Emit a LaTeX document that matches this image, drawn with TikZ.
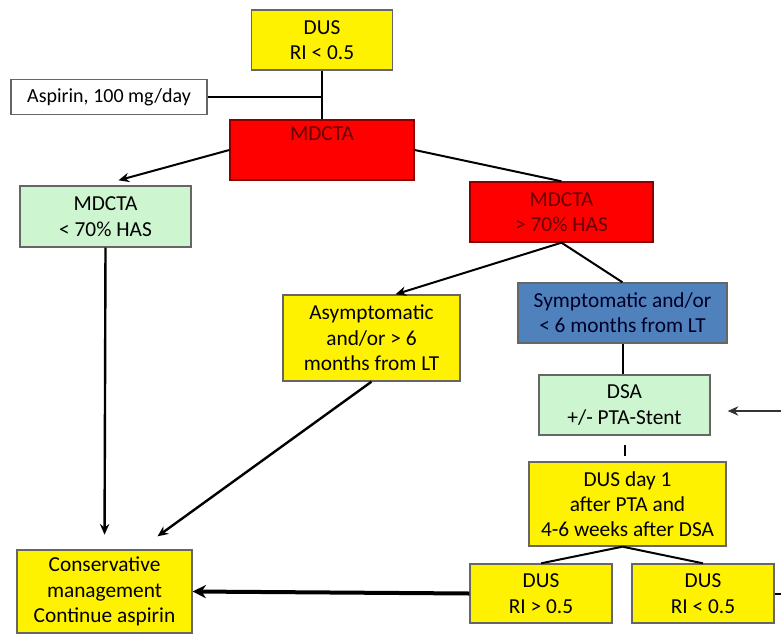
\documentclass[tikz,border=0pt]{standalone}
\usepackage{fontspec}
\setmainfont{Carlito}
\usetikzlibrary{arrows.meta}
\definecolor{mintgreen}{RGB}{204,245,208}
\definecolor{steelblue}{RGB}{79,129,189}

\begin{document}
\begin{tikzpicture}[x=0.75pt,y=-0.75pt,
    box/.style={draw=black!60, line width=1pt, align=center, inner sep=1pt,
      font=\fontsize{16}{19}\selectfont},
    sz/.style 2 args={minimum width=#1*0.75pt, minimum height=#2*0.75pt},
    yel/.style={box, fill=yellow},
    redbox/.style={box, fill=red, text=red!40!black, draw=red!55!black},
    grn/.style={box, fill=mintgreen},
    blu/.style={box, fill=steelblue, text=black!85!blue},
    link/.style={line width=1.5pt},
    arr/.style={link, -{Stealth[length=8pt,width=7pt]}}]
  \useasboundingbox (0,0) rectangle (781,635);

  % Define boxes
  \node[yel, sz={141}{60}] (dus) at (322,40) {DUS\\RI < 0.5};
  \node[box, fill=white, sz={196}{35}, font=\fontsize{15}{17}\selectfont] (asp) at (109,97) {Aspirin, 100 mg/day};
  \node[redbox, sz={184}{60}] (mdcta) at (322,150) {MDCTA\\\strut};
  \node[grn, sz={171}{61}] (low) at (105.5,216.5) {MDCTA\\< 70\% HAS};
  \node[redbox, sz={183}{60}] (high) at (561.5,212) {MDCTA\\> 70\% HAS};
  \node[yel, sz={177}{86}] (asym) at (371.5,338) {Asymptomatic\\and/or > 6\\months from LT};
  \node[blu, sz={209}{60}] (sym) at (622.5,313) {Symptomatic and/or\\< 6 months from LT};
  \node[grn, sz={171}{60}] (dsa) at (624.5,405) {DSA\\+/- PTA-Stent};
  \node[yel, sz={197}{84}] (day) at (627.5,504) {DUS day 1\\after PTA and\\4-6 weeks after DSA};
  \node[yel, sz={142}{59}] (rhi) at (541,593.5) {DUS\\RI > 0.5};
  \node[yel, sz={142}{59}] (rlo) at (703,593.5) {DUS\\RI < 0.5};
  \node[yel, sz={175}{83}] (cons) at (104.5,591.5) {Conservative\\management\\Continue aspirin};

  % Free ends at the right border
  \coordinate (inR) at (781,411);
  \coordinate (outR) at (781,593.5);

  % Draw connectors
  \draw[link] (dus.south) -- (mdcta.north);
  \draw[link] (asp.east) -- (asp.east -| dus.south);
  \draw[arr] (mdcta.west) -- ([shift={(13,-5)}]low.north);
  \draw[link] (mdcta.east) -- (high.north);
  \draw[arr] (high.south) -- ([shift={(24,0)}]asym.north);
  \draw[link] (high.south) -- (sym.north);
  \draw[link] (sym.south) -- (sym.south |- dsa.north);
  \draw[link, shorten <=7pt, shorten >=4pt] (dsa.south) -- (dsa.south |- day.north);
  \draw[link] ([shift={(-5,0)}]day.south) -- (rhi.north);
  \draw[link] ([shift={(-5,0)}]day.south) -- (rlo.north);
  \draw[arr, line width=3pt, -{Stealth[length=10pt,width=10pt]}] (rhi.west) -- (cons.east);
  \draw[arr, line width=1.8pt, shorten >=11pt] (low.south) -- (cons.north);
  \draw[arr, line width=1.8pt] (asym.south) -- ([shift={(53,-13)}]cons.north);
  \draw[arr, line width=1.2pt, draw=black!80] (inR) -- ([shift={(17,6)}]dsa.east);
  \draw[link] (rlo.east) -- (outR);
\end{tikzpicture}
\end{document}
